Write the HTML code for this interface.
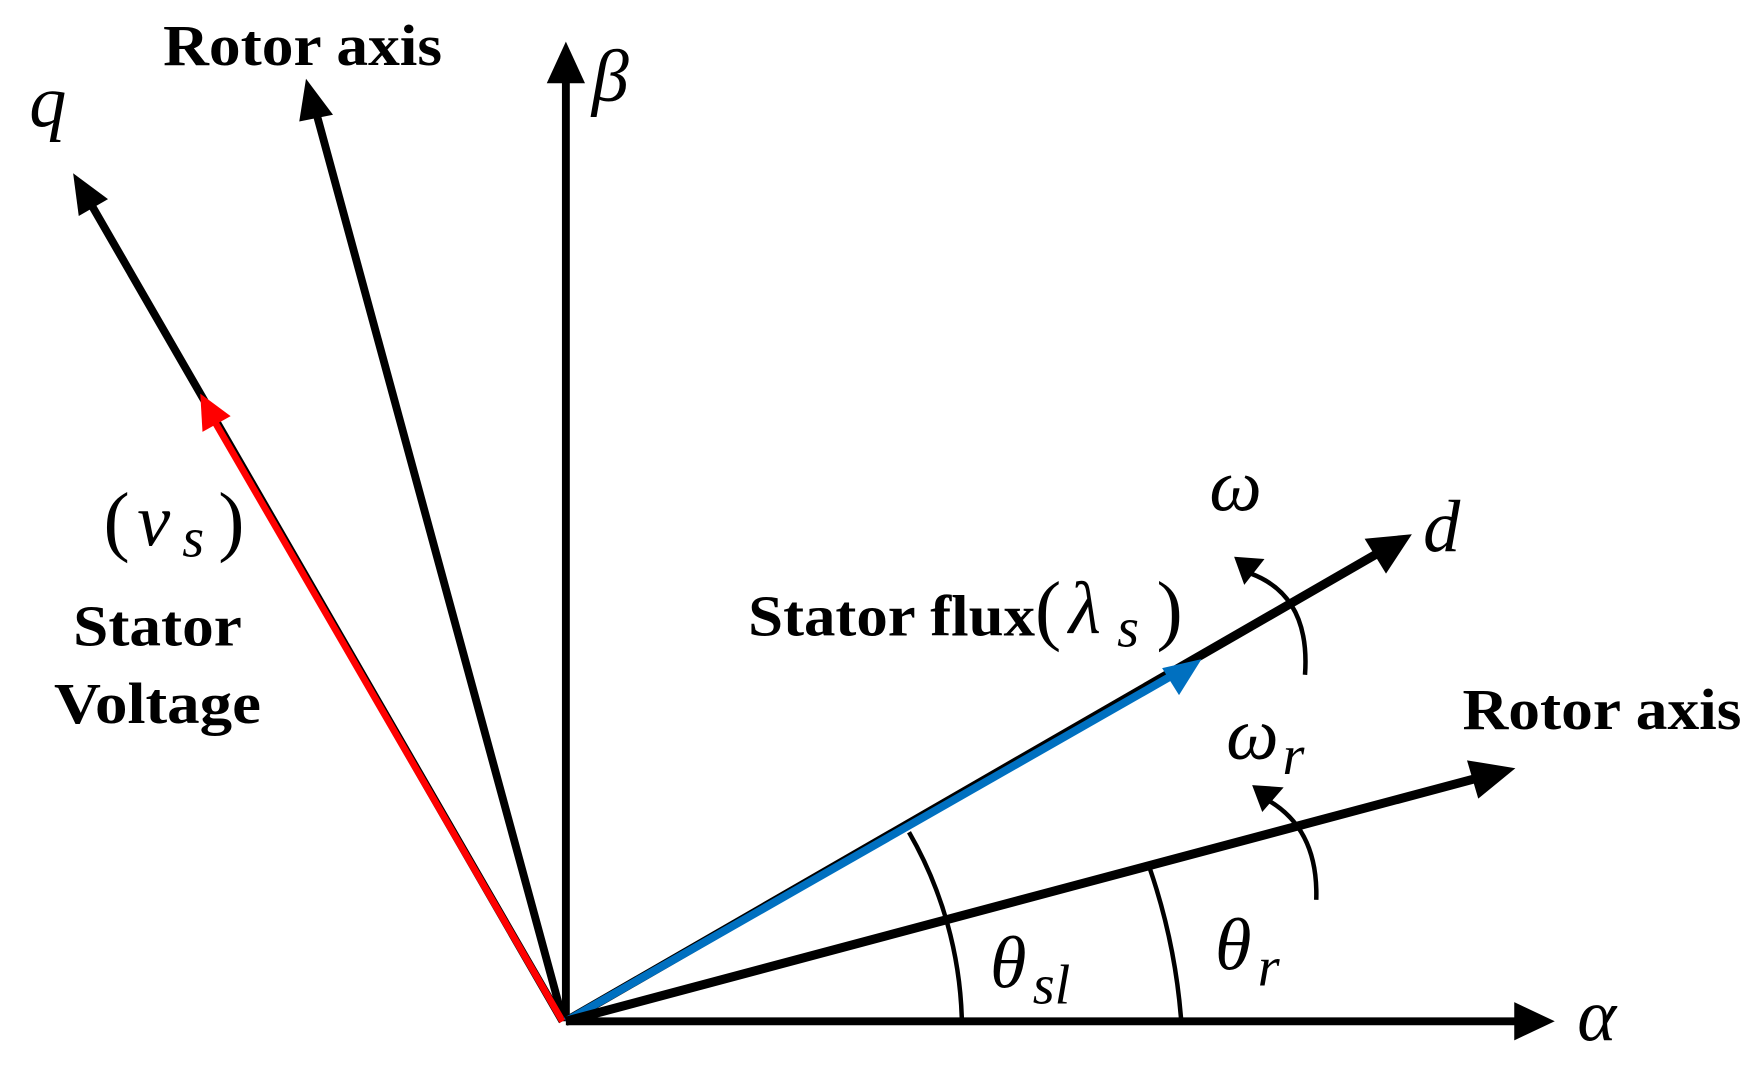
<!DOCTYPE html>
<html><head><meta charset="utf-8"><style>
html,body{margin:0;padding:0;background:#fff;}
svg{display:block;}
.b{font-family:"Liberation Serif",serif;font-weight:bold;font-size:52px;}
.i{font-family:"Liberation Serif",serif;font-style:italic;font-size:66px;}
.s{font-family:"Liberation Serif",serif;font-style:italic;font-size:50px;}
.p{font-family:"Liberation Serif",serif;font-size:70px;}
</style></head><body>
<svg width="1764" height="1073" viewBox="0 0 1568 954" preserveAspectRatio="none" xmlns="http://www.w3.org/2000/svg">
<g stroke-linecap="butt" fill="none">
<line x1="503" y1="908" x2="1350" y2="908" stroke="#000" stroke-width="7"/>
<polygon points="1382,908 1346,891 1346,925" fill="#000"/>
<line x1="503" y1="908" x2="503" y2="70" stroke="#000" stroke-width="7"/>
<polygon points="503,37 486,74 520,74" fill="#000"/>
<line x1="500" y1="905" x2="281" y2="100" stroke="#000" stroke-width="7"/>
<polygon points="272,70 266,108 296,102" fill="#000"/>
<line x1="500" y1="908" x2="80" y2="180" stroke="#000" stroke-width="7"/>
<polygon points="65,154 70,192 96,177" fill="#000"/>
<line x1="500" y1="908" x2="188" y2="370" stroke="#f00" stroke-width="6"/>
<polygon points="178,350 180,384 205,370" fill="#f00"/>
<line x1="503" y1="908" x2="1228" y2="490" stroke="#000" stroke-width="8"/>
<polygon points="1255,475 1213,479 1232,510" fill="#000"/>
<line x1="503" y1="908" x2="1050" y2="596" stroke="#0070c0" stroke-width="7"/>
<polygon points="1068,586 1033,594 1048,618" fill="#0070c0"/>
<line x1="503" y1="908" x2="1320" y2="690" stroke="#000" stroke-width="8"/>
<polygon points="1347,683 1304,676 1314,710" fill="#000"/>
<path d="M808,740 A352,352 0 0 1 855,908" stroke="#000" stroke-width="4"/>
<path d="M1022,772 A545,545 0 0 1 1050,908" stroke="#000" stroke-width="4"/>
<path d="M1160,600 Q1165,530 1112,510" stroke="#000" stroke-width="4"/>
<polygon points="1097,495 1124,497 1106,520" fill="#000"/>
<path d="M1170,800 Q1172,738 1128,712" stroke="#000" stroke-width="4"/>
<polygon points="1113,698 1141,700 1122,722" fill="#000"/>
</g>
<text class="b" x="145" y="58" textLength="248" lengthAdjust="spacingAndGlyphs">Rotor axis</text>
<text class="i" x="26" y="112">q</text>
<text class="i" x="526" y="90">β</text>
<text class="p" x="92" y="486">(</text>
<text class="i" x="122" y="485">v</text>
<text class="s" x="162" y="495">s</text>
<text class="p" x="194" y="486">)</text>
<text class="b" x="140" y="574" text-anchor="middle" textLength="150" lengthAdjust="spacingAndGlyphs">Stator</text>
<text class="b" x="140" y="643" text-anchor="middle" textLength="184" lengthAdjust="spacingAndGlyphs">Voltage</text>
<text class="i" x="1075" y="454">ω</text>
<text class="i" x="1265" y="490">d</text>
<text class="b" x="665" y="565" textLength="255" lengthAdjust="spacingAndGlyphs">Stator flux</text>
<text class="p" x="920" y="565">(</text>
<text class="i" x="950" y="563">λ</text>
<text class="s" x="993" y="575">s</text>
<text class="p" x="1028" y="565">)</text>
<text class="b" x="1300" y="648" textLength="248" lengthAdjust="spacingAndGlyphs">Rotor axis</text>
<text class="i" x="1090" y="675">ω</text>
<text class="s" x="1140" y="688">r</text>
<text class="i" x="880" y="878">θ</text>
<text class="s" x="918" y="892">sl</text>
<text class="i" x="1080" y="862">θ</text>
<text class="s" x="1118" y="876">r</text>
<text class="i" x="1402" y="925">α</text>
</svg>
</body></html>
